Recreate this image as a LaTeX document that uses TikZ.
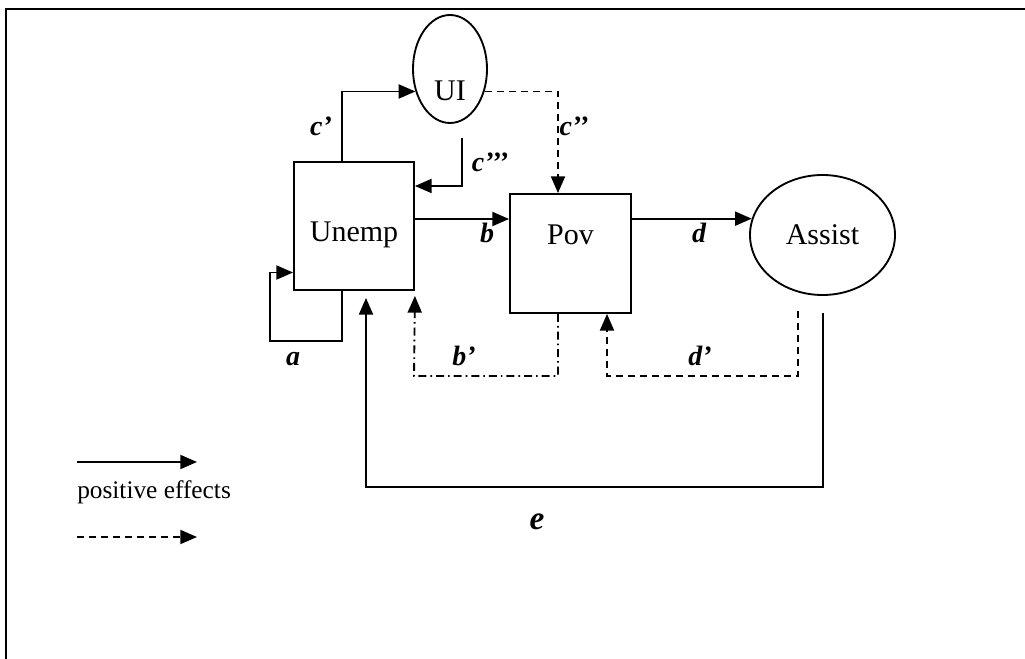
\documentclass[tikz,border=0pt]{standalone}
\usepackage{fontspec}
\setmainfont{Liberation Serif}
\usetikzlibrary{arrows.meta,shapes.geometric,calc}
\tikzset{
	>={Triangle[length=12.5pt,width=10.5pt]},
	flow/.style={->, line width=1.4pt},
	flowdash/.style={flow, dash pattern=on 5.5pt off 3.5pt},
	flowdashdot/.style={flow, dash pattern=on 6pt off 3pt on 1.2pt off 3pt},
	vartext/.style={font=\fontsize{22.5}{26}\selectfont},
	varbox/.style={draw, line width=1.4pt, rectangle, inner sep=0pt},
	varoval/.style={draw, line width=1.4pt, ellipse, inner sep=0pt},
	coef/.style={font=\fontsize{21}{25}\selectfont\bfseries\itshape, inner sep=0pt},
}
\begin{document}
\begin{tikzpicture}[x=0.75pt, y=-0.75pt]
	\useasboundingbox (0,0) rectangle (1025,659);
	\draw[line width=1.6pt] (6,659) -- (6,9) -- (1025,9);
	\node[varbox, minimum width=90pt, minimum height=96pt, label={[vartext, yshift=-6.75pt]center:Unemp}] (unemp) at (354,226) {};
	\node[varbox, minimum width=90.75pt, minimum height=89.25pt, label={[vartext, yshift=13.9pt]center:Pov}] (pov) at (570.5,253.5) {};
	\node[varoval, minimum width=55.5pt, minimum height=81pt, label={[vartext, yshift=-16.5pt]center:UI}] (ui) at (450,69) {};
	\node[varoval, minimum width=108.75pt, minimum height=90pt, label={[vartext]center:Assist}] (assist) at (822.5,235) {};
	\coordinate (cpCol) at (342,0);
	\coordinate (cppCol) at (558,0);
	\coordinate (bRow) at (0,219);
	\coordinate (cpppTop) at (462,138);
	\coordinate (cpppTurn) at (462,186);
	\coordinate (aCorner) at (270,341);
	\coordinate (aIn) at (0,272.5);
	\coordinate (bpCorner) at (414,376);
	\coordinate (dpTop) at (798,311);
	\coordinate (dpCorner) at (607,376);
	\coordinate (eTop) at (823,313);
	\coordinate (eCorner) at (366,487);
	\draw[flow] (unemp.north -| cpCol) |- (ui.213);
	\draw[flowdash] (ui.327) -| (pov.north -| cppCol);
	\draw[flow] (cpppTop) -- (cpppTurn) -- (unemp.east |- cpppTurn);
	\draw[flow] (unemp.east |- bRow) -- (pov.west |- bRow);
	\draw[flow] (pov.east |- assist.167) -- (assist.167);
	\draw[flow] (unemp.south -| cpCol) |- (aCorner) |- (unemp.west |- aIn);
	\draw[flowdashdot] (pov.south -| cppCol) |- (bpCorner) -- ($(unemp.south east)+(0,5)$);
	\draw[flowdash] (dpTop) |- (dpCorner) -- (pov.south -| dpCorner);
	\draw[flow] (eTop) |- (eCorner) -- ($(unemp.south -| eCorner)+(0,7)$);
	\node[coef] (lblCp) at (321,126) {c’};
	\node[coef] (lblCpp) at (574,126) {c’’};
	\node[coef] (lblCppp) at (490,162) {c’’’};
	\node[coef] (lblB) at (487,233) {b};
	\node[coef] (lblD) at (699,233) {d};
	\node[coef] (lblA) at (293,359) {a};
	\node[coef] (lblBp) at (464,356) {b’};
	\node[coef] (lblDp) at (700,356) {d’};
	\node[coef, font=\fontsize{25}{29}\selectfont\bfseries\itshape] (lblE) at (537,522) {e};
	\coordinate (legA) at (77,462);
	\coordinate (legB) at (197,462);
	\coordinate (legC) at (77,537);
	\coordinate (legD) at (197,537);
	\draw[flow] (legA) -- (legB);
	\node[anchor=west, inner sep=0pt, font=\fontsize{19}{23}\selectfont] (legText) at (77,492) {positive effects};
	\draw[flowdash] (legC) -- (legD);
\end{tikzpicture}
\end{document}
